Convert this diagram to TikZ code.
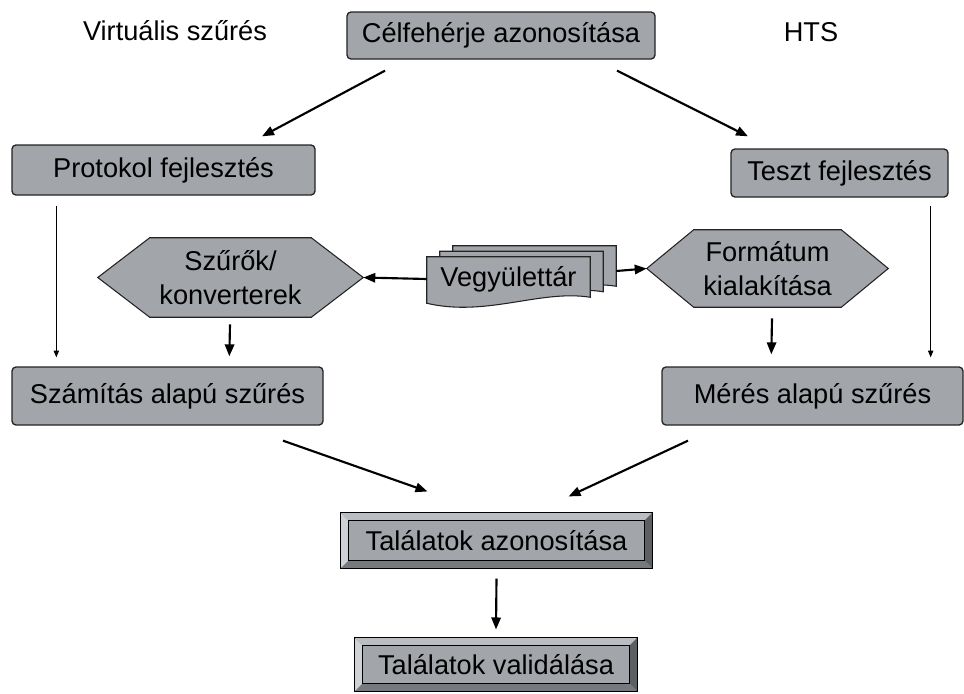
\documentclass[tikz,border=0pt]{standalone}
\usepackage{fontspec}
\setmainfont{Liberation Sans}
\usepackage{tikz}
\usetikzlibrary{arrows.meta,calc,backgrounds}

\definecolor{boxgrey}{RGB}{162,165,170}
\definecolor{boxline}{RGB}{35,35,35}
\definecolor{bevlight}{RGB}{206,209,213}
\definecolor{bevtop}{RGB}{186,189,193}
\definecolor{bevdark}{RGB}{92,95,100}
\definecolor{bevbottom}{RGB}{118,121,126}

\begin{document}
\begin{tikzpicture}[x=0.75pt,y=0.75pt,yscale=-1,xscale=1,
    txt/.style={font=\fontsize{20.4}{25}\selectfont,inner sep=0pt,align=center},
    procbox/.style={txt,draw=boxline,line width=1pt,fill=boxgrey,rounded corners=3pt},
    bevbox/.style={txt,draw=black,line width=0.8pt,fill=boxgrey},
    hexfill/.style={draw=boxline,line width=0.8pt,fill=boxgrey},
    sheet/.style={draw=boxline,line width=0.8pt,fill=boxgrey},
    arr/.style={line width=1.6pt,-{Triangle[length=9pt,width=7pt]}},
    thinarr/.style={line width=0.75pt,-{Triangle[length=5pt,width=4pt]}}]
    \useasboundingbox (0,0) rectangle (964,693);

    % Text Node
    \node[txt] (virt) at (175,31) {Virtuális szűrés};
    % Text Node
    \node[txt] (hts) at (811,32) {HTS};

    %Shape: Rounded Rectangle
    \node[procbox,minimum width=231pt,minimum height=35.25pt] (cel) at (501,35.5) {Célfehérje azonosítása};
    \node[procbox,minimum width=227.25pt,minimum height=37.5pt] (prot) at (163.5,170) {Protokol fejlesztés};
    \node[procbox,minimum width=162.75pt,minimum height=36pt] (teszt) at (839.5,173) {Teszt fejlesztés};
    \node[procbox,minimum width=233.25pt,minimum height=43.5pt] (szam) at (167.5,396) {Számítás alapú szűrés};
    \node[procbox,minimum width=225.75pt,minimum height=43.5pt] (meres) at (812.5,396) {Mérés alapú szűrés};

    %Shape: Hexagon
    \node[txt,minimum width=198.75pt,minimum height=59.25pt] (sz) at (230.5,277.5) {Szűrők/\\konverterek};
    \node[txt,minimum width=180.75pt,minimum height=57.75pt] (form) at (767.5,268.5) {Formátum\\kialakítása};
    %Shape: Multidocument
    \node[txt,minimum width=122.25pt,minimum height=33pt] (vt) at (508.5,279) {Vegyülettár};

    \begin{pgfonlayer}{background}
        \draw[hexfill] (sz.west) -- ($(sz.north west)+(52,0)$) -- ($(sz.north east)+(-52,0)$) -- (sz.east) -- ($(sz.south east)+(-52,0)$) -- ($(sz.south west)+(52,0)$) -- cycle;
        \draw[hexfill] (form.west) -- ($(form.north west)+(47,0)$) -- ($(form.north east)+(-47,0)$) -- (form.east) -- ($(form.south east)+(-47,0)$) -- ($(form.south west)+(47,0)$) -- cycle;
        \foreach \dx/\dy in {26/-11,13/-5.5,0/0}
            \draw[sheet] ($(vt.north west)+(\dx,\dy)$) -- ($(vt.north east)+(\dx,\dy)$) -- ($(vt.south east)+(\dx,\dy-4)$) .. controls ($(vt.south east)+(\dx-50,\dy-12)$) and ($(vt.south west)+(\dx+60,\dy+16)$) .. ($(vt.south west)+(\dx,\dy+2)$) -- cycle;
    \end{pgfonlayer}

    %Shape: Bevel
    \node[bevbox,minimum width=233.25pt,minimum height=41.25pt] (taz) at (496.5,540.5) {Találatok azonosítása};
    \node[bevbox,minimum width=211.5pt,minimum height=39.75pt] (tval) at (496,664.5) {Találatok validálása};
    \foreach \b in {taz,tval}{
        \fill[bevlight] (\b.north west) -- ($(\b.north west)+(8,8)$) -- ($(\b.south west)+(8,-8)$) -- (\b.south west) -- cycle;
        \fill[bevtop] (\b.north west) -- (\b.north east) -- ($(\b.north east)+(-8,8)$) -- ($(\b.north west)+(8,8)$) -- cycle;
        \fill[bevdark] (\b.north east) -- (\b.south east) -- ($(\b.south east)+(-8,-8)$) -- ($(\b.north east)+(-8,8)$) -- cycle;
        \fill[bevbottom] (\b.south west) -- (\b.south east) -- ($(\b.south east)+(-8,-8)$) -- ($(\b.south west)+(8,-8)$) -- cycle;
        \draw[line width=0.8pt] (\b.north west) rectangle (\b.south east);
        \draw[line width=0.8pt] ($(\b.north west)+(8,8)$) rectangle ($(\b.south east)+(-8,-8)$);
    }

    %Straight Lines
    \draw[arr] ($(cel.south)+(-116,11)$) -- ($(prot.north)+(98.5,-8)$);
    \draw[arr] ($(cel.south)+(116,11)$) -- ($(teszt.north)+(-91.5,-12)$);
    \draw[thinarr] ($(prot.south west)+(45,10)$) -- ($(szam.north west)+(45,-9)$);
    \draw[thinarr] ($(teszt.south east)+(-18,8)$) -- ($(meres.north east)+(-33,-9)$);
    \draw[arr] ($(sz.south)+(-0.5,7)$) -- ($(szam.north west)+(218,-10)$);
    \draw[arr] ($(form.south)+(4.5,11)$) -- ($(meres.north west)+(110,-12)$);
    \draw[arr] (vt.west) -- (sz.east);
    \draw[arr] ($(vt.east)+(26,-8)$) -- (form.west);
    \draw[arr] ($(szam.south)+(115.5,15)$) -- ($(taz.north west)+(87,-21)$);
    \draw[arr] ($(meres.south)+(-124.5,15)$) -- ($(taz.north east)+(-84,-16)$);
    \draw[arr] ($(taz.south)+(0,10)$) -- ($(tval.north)+(0,-8)$);

\end{tikzpicture}
\end{document}
